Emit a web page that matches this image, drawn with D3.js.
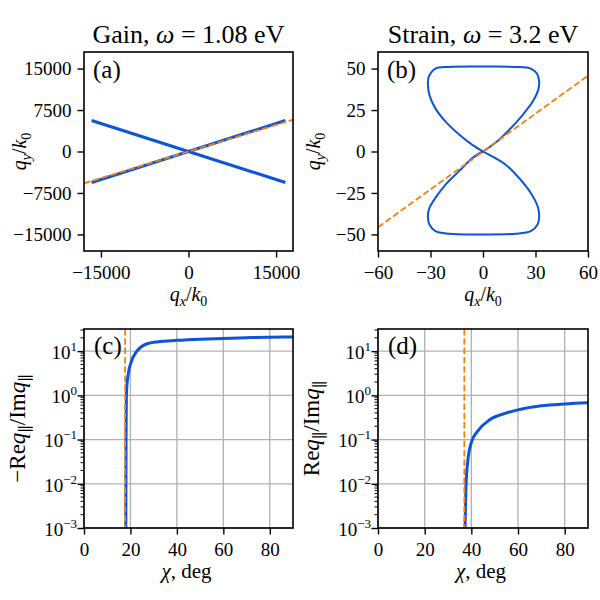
<!DOCTYPE html>
<html>
<head>
<meta charset="utf-8">
<script src="https://cdn.jsdelivr.net/npm/d3@7"></script>
<style>
  body { margin: 0; background: #fff; }
  text { font-family: "Liberation Serif", "DejaVu Serif", serif; fill: #000; }
</style>
</head>
<body>
<script>
// ---- data ----
// (a) gain: two straight branches and the asymptote
const gainBranchDown = [[-16600, 5600], [16600, -5600]];
const gainBranchUp = [[-16600, -5600], [16600, 5600]];
const gainAsymptote = [[-17900, -5750], [17900, 5750]];
const gainXTicks = [-15000, 0, 15000];
const gainYTicks = [-15000, -7500, 0, 7500, 15000];

// (b) strain: figure-eight contour, traversed once
const strainCurve = [
  [0, 0], [7.3, 5.4], [14.9, 13], [22.6, 22], [28.3, 30], [31.5, 37], [32.1, 42],
  [30.8, 47], [27.3, 50], [18.7, 51], [0, 51.2], [-19.5, 51], [-27.2, 50],
  [-31, 45], [-31.5, 41], [-30.6, 34], [-27.2, 26], [-21.4, 18], [-13.8, 10.4],
  [-6.1, 4], [0, 0], [6.3, -3.6], [13, -8], [20.6, -16], [27.3, -25], [31.2, -33],
  [32.1, -39], [31.2, -44], [27.3, -48], [18.7, -49.6], [0, -50], [-19.5, -49.6],
  [-27.2, -48], [-30.6, -44], [-31.5, -39], [-30.6, -34], [-27.2, -28],
  [-21.4, -20], [-13.8, -12], [-6.1, -4], [0, 0]
];
const strainAsymptote = [[-60, -45.7], [60, 45.7]];
const strainXTicks = [-60, -30, 0, 30, 60];
const strainYTicks = [-50, -25, 0, 25, 50];

// (c) gain ratio vs chi
const gainChi = [18.0, 18.05, 18.1, 18.2, 18.3, 19.0, 20.4, 22.6, 26.9, 32, 40, 50, 60, 70, 80, 90];
const gainRatio = [0.001, 0.01, 0.1, 0.5, 1.2, 2.9, 5.8, 9.7, 14.5, 16.3, 17.5, 18.6, 19.4, 20.1, 20.6, 20.9];
const gainChiCut = 17.7;

// (d) strain ratio vs chi
const strainChi = [37.3, 37.5, 37.7, 38.7, 40.1, 42.9, 47.9, 55.1, 60, 70, 80, 90];
const strainRatio = [0.001, 0.003, 0.0085, 0.041, 0.089, 0.16, 0.28, 0.40, 0.47, 0.58, 0.64, 0.68];
const strainChiCut = 37.0;

const chiTicks = [0, 20, 40, 60, 80];
const logTicks = [1e-3, 1e-2, 1e-1, 1, 10];
const logExp = ["\u22123", "\u22122", "\u22121", "0", "1"];

const BLUE = "#0d55d6";
const ORANGE = "#f5800f";

const svg = d3.select("body").append("svg")
  .attr("width", 600).attr("height", 600);

// text with italic / subscript / superscript pieces
function mathText(sel, parts, size) {
  let shift = 0;
  parts.forEach(p => {
    const ts = sel.append("tspan").text(p.t);
    let target = p.sub ? size * 0.27 : (p.sup ? -size * 0.42 : 0);
    ts.attr("dy", target - shift);
    shift = target;
    if (p.it) ts.attr("font-style", "italic");
    if (p.sub || p.sup) ts.attr("font-size", size * 0.7);
  });
}

const minus = v => String(v).replace("-", "\u2212");

function frame(g, w, h) {
  g.append("rect")
    .attr("width", w).attr("height", h)
    .attr("fill", "none").attr("stroke", "#000").attr("stroke-width", 1.6);
}

function styleAxis(g) {
  g.select(".domain").remove();
  g.selectAll(".tick line").attr("stroke", "#000").attr("stroke-width", 1.4);
  g.selectAll(".tick text").attr("font-size", 19).attr("font-family", "Liberation Serif");
}

// ---------- top panels ----------
function topPanel(opt) {
  const w = opt.right - opt.left, h = opt.bottom - opt.top;
  const g = svg.append("g").attr("transform", `translate(${opt.left},${opt.top})`);
  const x = d3.scaleLinear().domain(opt.xDomain).range([0, w]);
  const y = d3.scaleLinear().domain(opt.yDomain).range([h, 0]);

  g.append("clipPath").attr("id", opt.id + "clip")
    .append("rect").attr("width", w).attr("height", h);
  const plot = g.append("g").attr("clip-path", `url(#${opt.id}clip)`);

  const blueLine = d3.line()
    .x(p => x(p[0])).y(p => y(p[1]))
    .curve(opt.curve || d3.curveLinear);
  opt.blue.forEach(d => {
    plot.append("path")
      .attr("d", blueLine(d))
      .attr("fill", "none").attr("stroke", BLUE)
      .attr("stroke-width", opt.blueWidth).attr("stroke-linejoin", "round");
  });
  plot.append("path")
    .attr("d", d3.line().x(p => x(p[0])).y(p => y(p[1]))(opt.orange))
    .attr("fill", "none").attr("stroke", ORANGE)
    .attr("stroke-width", 1.8).attr("stroke-dasharray", "6.5,2.8");

  g.append("g").attr("transform", `translate(0,${h})`)
    .call(d3.axisBottom(x).tickValues(opt.xTicks).tickSize(6.5).tickPadding(8).tickFormat(minus))
    .call(styleAxis);
  g.append("g")
    .call(d3.axisLeft(y).tickValues(opt.yTicks).tickSize(6.5).tickPadding(6).tickFormat(minus))
    .call(styleAxis);
  frame(g, w, h);

  g.append("text").attr("x", 9).attr("y", 26).attr("font-size", 25).text(opt.letter);

  const title = svg.append("text")
    .attr("x", opt.left + w / 2).attr("y", 43)
    .attr("text-anchor", "middle").attr("font-size", 26);
  mathText(title, opt.title, 26);

  const xl = svg.append("text")
    .attr("x", opt.left + w / 2).attr("y", 301)
    .attr("text-anchor", "middle").attr("font-size", 20);
  mathText(xl, [{t: "q", it: true}, {t: "x", it: true, sub: true}, {t: "/"},
                {t: "k", it: true}, {t: "0", sub: true}], 20);

  const yl = svg.append("text")
    .attr("transform", `translate(${opt.left - 58},${opt.top + h / 2}) rotate(-90)`)
    .attr("text-anchor", "middle").attr("font-size", 20);
  mathText(yl, [{t: "q", it: true}, {t: "y", it: true, sub: true}, {t: "/"},
                {t: "k", it: true}, {t: "0", sub: true}], 20);
}

topPanel({
  id: "a", left: 84, right: 293, top: 52, bottom: 251,
  xDomain: [-17900, 17900], yDomain: [-18000, 18000],
  xTicks: gainXTicks, yTicks: gainYTicks,
  blue: [gainBranchDown, gainBranchUp], blueWidth: 3.2,
  orange: gainAsymptote, letter: "(a)",
  title: [{t: "Gain, "}, {t: "\u03C9", it: true}, {t: " = 1.08 eV"}]
});

topPanel({
  id: "b", left: 378, right: 588, top: 52, bottom: 251,
  xDomain: [-60, 60], yDomain: [-60, 60],
  xTicks: strainXTicks, yTicks: strainYTicks,
  blue: [strainCurve], blueWidth: 2, curve: d3.curveCatmullRom.alpha(0.5),
  orange: strainAsymptote, letter: "(b)",
  title: [{t: "Strain, "}, {t: "\u03C9", it: true}, {t: " = 3.2 eV"}]
});

// ---------- bottom panels ----------
function bottomPanel(opt) {
  const w = opt.right - opt.left, h = opt.bottom - opt.top;
  const g = svg.append("g").attr("transform", `translate(${opt.left},${opt.top})`);
  const x = d3.scaleLinear().domain([0, 90]).range([0, w]);
  const y = d3.scaleLog().domain([1e-3, Math.pow(10, 1.5)]).range([h, 0]);

  // grid
  g.selectAll(".vg").data(chiTicks).enter().append("line")
    .attr("x1", d => x(d)).attr("x2", d => x(d)).attr("y1", 0).attr("y2", h)
    .attr("stroke", "#b0b0b0").attr("stroke-width", 1.3);
  g.selectAll(".hg").data(logTicks).enter().append("line")
    .attr("y1", d => y(d)).attr("y2", d => y(d)).attr("x1", 0).attr("x2", w)
    .attr("stroke", "#b0b0b0").attr("stroke-width", 1.3);

  g.append("clipPath").attr("id", opt.id + "clip")
    .append("rect").attr("width", w).attr("height", h);
  const plot = g.append("g").attr("clip-path", `url(#${opt.id}clip)`);

  plot.append("path")
    .attr("d", d3.line().curve(d3.curveMonotoneX)
      .x((d, i) => x(opt.chi[i])).y(d => y(d))(opt.ratio))
    .attr("fill", "none").attr("stroke", BLUE).attr("stroke-width", 3);
  plot.append("line")
    .attr("x1", x(opt.cut)).attr("x2", x(opt.cut)).attr("y1", 0).attr("y2", h)
    .attr("stroke", ORANGE).attr("stroke-width", 1.8).attr("stroke-dasharray", "6.5,2.8");

  g.append("g").attr("transform", `translate(0,${h})`)
    .call(d3.axisBottom(x).tickValues(chiTicks).tickSize(6.5).tickPadding(8))
    .call(styleAxis);

  // minor log ticks
  const minors = [];
  logTicks.forEach(b => {
    for (let k = 2; k <= 9; k++) if (b * k <= Math.pow(10, 1.5)) minors.push(b * k);
  });
  g.selectAll(".mt").data(minors).enter().append("line")
    .attr("x1", -3.5).attr("x2", 0).attr("y1", d => y(d)).attr("y2", d => y(d))
    .attr("stroke", "#000").attr("stroke-width", 1);

  const ya = g.append("g")
    .call(d3.axisLeft(y).tickValues(logTicks).tickSize(6.5).tickPadding(6).tickFormat(""))
    .call(styleAxis);
  ya.selectAll(".tick").each(function(d, i) {
    const t = d3.select(this).select("text")
      .attr("dy", "0.38em").attr("x", -7).attr("text-anchor", "end");
    t.text(null);
    t.append("tspan").text("10");
    t.append("tspan").attr("dy", -8).attr("font-size", 13).text(logExp[i]);
  });

  frame(g, w, h);

  g.append("text").attr("x", 10).attr("y", 25).attr("font-size", 25).text(opt.letter);

  const xl = svg.append("text")
    .attr("x", opt.left + w / 2 - 2).attr("y", 578)
    .attr("text-anchor", "middle").attr("font-size", 21);
  mathText(xl, [{t: "\u03C7", it: true}, {t: ", deg"}], 21);

  const yl = svg.append("text")
    .attr("transform", `translate(${opt.left - 59},${opt.top + h / 2}) rotate(-90)`)
    .attr("text-anchor", "middle").attr("font-size", 23);
  mathText(yl, [{t: opt.sign + "Re"}, {t: "q", it: true}, {t: "\u2225", sub: true},
                {t: "/Im"}, {t: "q", it: true}, {t: "\u2225", sub: true}], 23);
}

bottomPanel({
  id: "c", left: 84, right: 293, top: 329, bottom: 528,
  chi: gainChi, ratio: gainRatio, cut: gainChiCut, letter: "(c)", sign: "\u2212"
});

bottomPanel({
  id: "d", left: 378, right: 588, top: 329, bottom: 528,
  chi: strainChi, ratio: strainRatio, cut: strainChiCut, letter: "(d)", sign: ""
});
</script>
</body>
</html>
